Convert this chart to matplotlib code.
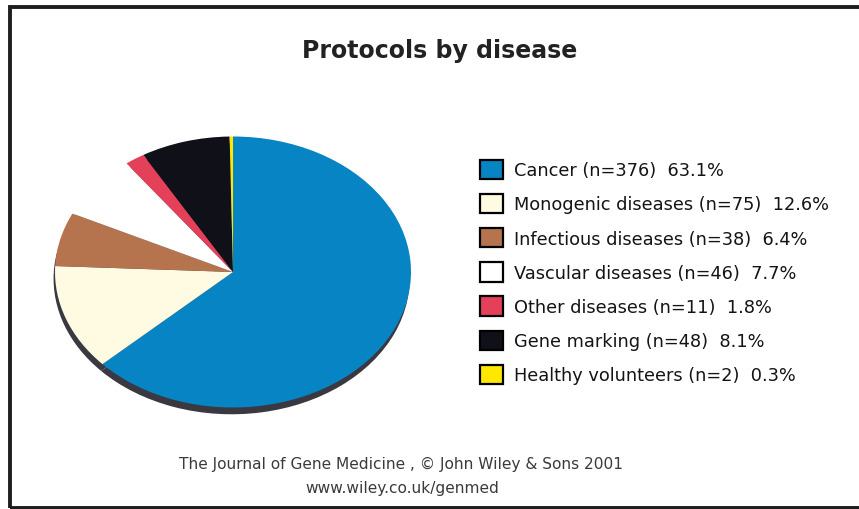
import matplotlib
matplotlib.use("Agg")
import matplotlib.pyplot as plt
from matplotlib.patches import Patch, Rectangle

# Gene therapy protocols by disease
categories = ["Cancer", "Monogenic diseases", "Infectious diseases",
              "Vascular diseases", "Other diseases", "Gene marking",
              "Healthy volunteers"]
counts = [376, 75, 38, 46, 11, 48, 2]
percents = [63.1, 12.6, 6.4, 7.7, 1.8, 8.1, 0.3]
colors = ["#0784c3", "#fffae2", "#b5744e", "#ffffff", "#e5405a",
          "#101018", "#ffe800"]
shadow_color = "#3a3840"

W, H = 859, 510
fig = plt.figure(figsize=(W / 100, H / 100), dpi=100)
fig.patch.set_facecolor("white")

# outer frame
fig.patches.append(Rectangle((9.5 / W, 1 - 508.5 / H), 1.0, (508.5 - 7.5) / H,
                             transform=fig.transFigure, fill=False,
                             edgecolor="#1e1e1e", linewidth=2.8,
                             clip_on=False))

# pie axes: elliptical pie with a dark rim underneath
cx, cy, rx, ry = 233, 273, 178, 135.5
ybot = -1.15
left_px, right_px = cx - rx, cx + rx
top_px = cy - ry
bot_px = cy + ry * (-ybot)
ax = fig.add_axes([left_px / W, 1 - bot_px / H, (right_px - left_px) / W,
                   (bot_px - top_px) / H])

ax.pie(percents, colors=[shadow_color] * len(percents), startangle=90,
       counterclock=False, center=(-0.008, -0.05),
       wedgeprops=dict(linewidth=0))
ax.pie(percents, colors=colors, startangle=90, counterclock=False,
       wedgeprops=dict(linewidth=0))
ax.set_aspect("auto")
ax.set_xlim(-1, 1)
ax.set_ylim(ybot, 1)
ax.axis("off")

fig.text(440 / W, 1 - 58 / H, "Protocols by disease", ha="center",
         va="baseline", fontsize=17, fontweight="bold", color="#222222")

labels = [f"{c} (n={n})  {p:.1f}%" for c, n, p in zip(categories, counts, percents)]
handles = [Patch(facecolor=c, edgecolor="black", linewidth=1.6) for c in colors]
fs = 12.8
fig.legend(handles, labels, loc="upper left",
           bbox_to_anchor=(480 / W, 1 - 160.5 / H), frameon=False,
           fontsize=fs, borderpad=0, borderaxespad=0,
           handlelength=1.3, handleheight=1.3, handletextpad=0.6,
           labelspacing=0.82, labelcolor="#141414")

fig.text(401 / W, 1 - 464 / H,
         "The Journal of Gene Medicine , \u00a9 John Wiley & Sons 2001",
         ha="center", va="center", fontsize=11.1, color="#3a3a3a")
fig.text(402 / W, 1 - 489 / H, "www.wiley.co.uk/genmed", ha="center",
         va="center", fontsize=11.1, color="#3a3a3a")

fig.savefig("out.png", dpi=100, facecolor="white")
